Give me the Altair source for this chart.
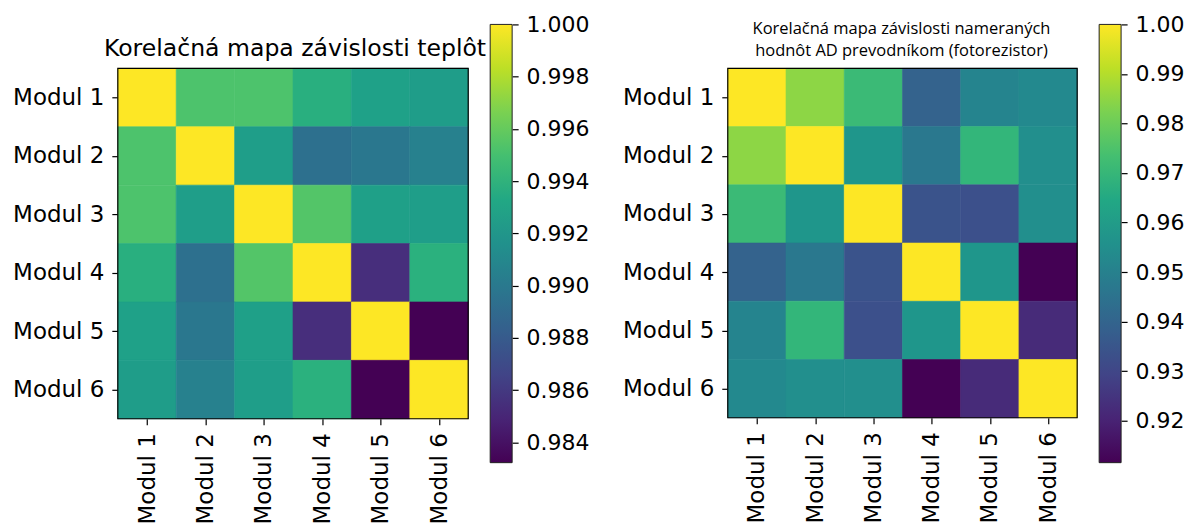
import json
import altair as alt
import pandas as pd

# ---------------- data ----------------
modules = ["Modul 1", "Modul 2", "Modul 3", "Modul 4", "Modul 5", "Modul 6"]

temp_corr = [
    [1.0000, 0.9953, 0.9953, 0.9938, 0.9928, 0.9925],
    [0.9953, 1.0000, 0.9926, 0.9894, 0.9899, 0.9905],
    [0.9953, 0.9926, 1.0000, 0.9955, 0.9927, 0.9926],
    [0.9938, 0.9894, 0.9955, 1.0000, 0.9854, 0.9939],
    [0.9928, 0.9899, 0.9927, 0.9854, 1.0000, 0.98323],
    [0.9925, 0.9905, 0.9926, 0.9939, 0.98323, 1.0000],
]

light_corr = [
    [1.0000, 0.9850, 0.9717, 0.9390, 0.9510, 0.9530],
    [0.9850, 1.0000, 0.9580, 0.9470, 0.9700, 0.9550],
    [0.9717, 0.9580, 1.0000, 0.9340, 0.9330, 0.9550],
    [0.9390, 0.9470, 0.9340, 1.0000, 0.9580, 0.9115],
    [0.9510, 0.9700, 0.9330, 0.9580, 1.0000, 0.9220],
    [0.9530, 0.9550, 0.9550, 0.9115, 0.9220, 1.0000],
]

temp_ticks = [0.984, 0.986, 0.988, 0.990, 0.992, 0.994, 0.996, 0.998, 1.000]
light_ticks = [0.92, 0.93, 0.94, 0.95, 0.96, 0.97, 0.98, 0.99, 1.00]

temp_title = "Korelačná mapa závislosti teplôt"
light_title = ["Korelačná mapa závislosti nameraných",
               "hodnôt AD prevodníkom (fotorezistor)"]

viridis_stops = ["#440154", "#482475", "#414487", "#355f8d", "#2a788e", "#21918c",
                 "#22a884", "#44bf70", "#7ad151", "#bddf26", "#fde725"]

# ---------------- layout constants ----------------
TOP = 44        # heatmap top offset inside panel (below colorbar top)
H = 439         # panel height (colorbar height)
CB_W = 22       # colorbar width


def panel(matrix, ticks, fmt, title, heat_size, gap):
    n = len(modules)
    W = heat_size + gap + CB_W
    cb_x0 = heat_size + gap
    rows = []
    for i in range(n):
        for j in range(n):
            rows.append({"r": i, "r2": i + 1, "c": j, "c2": j + 1, "v": matrix[i][j]})
    df = pd.DataFrame(rows)
    vmin = float(df["v"].min())
    vmax = float(df["v"].max())

    xs = alt.Scale(domain=[0, n], range=[0, heat_size])
    ys = alt.Scale(domain=[0, n], range=[TOP, TOP + heat_size])
    centers = [k + 0.5 for k in range(n)]
    label_expr = json.dumps(modules) + "[datum.value - 0.5]"
    cscale = alt.Scale(scheme="viridis", domain=[vmin, vmax])

    heat = alt.Chart(df).mark_rect(strokeWidth=0.6).encode(
        x=alt.X("c:Q", scale=xs,
                axis=alt.Axis(values=centers, labelExpr=label_expr, labelAngle=-90,
                              orient="bottom", offset=-(H - TOP - heat_size), title=None,
                              labelPadding=8, labelFontSize=23)),
        x2="c2:Q",
        y=alt.Y("r:Q", scale=ys,
                axis=alt.Axis(values=centers, labelExpr=label_expr, orient="left",
                              title=None, labelPadding=8, labelFontSize=23)),
        y2="r2:Q",
        color=alt.Color("v:Q", scale=cscale, legend=None),
        stroke=alt.Stroke("v:Q", scale=cscale, legend=None),
    )

    frame_df = pd.DataFrame([{"c": 0, "c2": n, "r": 0, "r2": n}])
    frame = alt.Chart(frame_df).mark_rect(fillOpacity=0, stroke="black", strokeWidth=1.2).encode(
        x=alt.X("c:Q", scale=xs, axis=None),
        x2="c2:Q",
        y=alt.Y("r:Q", scale=ys, axis=None),
        y2="r2:Q",
    )

    gradient = alt.LinearGradient(
        gradient="linear",
        stops=[alt.GradientStop(color=c, offset=k / (len(viridis_stops) - 1))
               for k, c in enumerate(viridis_stops)],
        x1=0, x2=0, y1=1, y2=0,
    )
    cb_df = pd.DataFrame([{"lo": vmin, "hi": vmax, "a": 0, "b": 1}])
    cbar = alt.Chart(cb_df).mark_rect(fill=gradient, stroke="#222222", strokeWidth=1).encode(
        x=alt.X("a:Q", scale=alt.Scale(domain=[0, 1], range=[cb_x0, W]), axis=None),
        x2="b:Q",
        y=alt.Y("lo:Q", scale=alt.Scale(domain=[vmin, vmax], range=[H, 0]),
                axis=alt.Axis(orient="right", values=ticks, format=fmt, title=None,
                              labelPadding=8, labelFontSize=22)),
        y2="hi:Q",
    )

    return alt.layer(heat, frame, cbar).resolve_scale(
        x="independent", y="independent"
    ).properties(width=W, height=H, title=title)


t1 = alt.TitleParams(temp_title, font="DejaVu Sans", fontSize=23.6, fontWeight="normal",
                     color="black", offset=-66, dx=-20, baseline="alphabetic",
                     anchor="middle", frame="group")
t2 = alt.TitleParams(light_title, font="Open Sans", fontSize=16.5, fontWeight="normal",
                     color="black", offset=-59, dx=-23, baseline="alphabetic",
                     anchor="middle", frame="group", lineHeight=22)

p1 = panel(temp_corr, temp_ticks, ".3f", t1, 351, 22)
p2 = panel(light_corr, light_ticks, ".2f", t2, 350, 22)

chart = alt.hconcat(p1, p2, spacing=33).resolve_scale(
    color="independent", stroke="independent"
).properties(
    padding={"left": 4, "top": 5, "right": 0, "bottom": 0}
).configure_view(stroke=None).configure_axis(
    labelFont="DejaVu Sans", labelColor="black",
    tickColor="black", tickSize=6, tickWidth=1.2, grid=False, domain=False,
)

chart.save("out.html", embed_options={"renderer": "svg", "actions": False})
